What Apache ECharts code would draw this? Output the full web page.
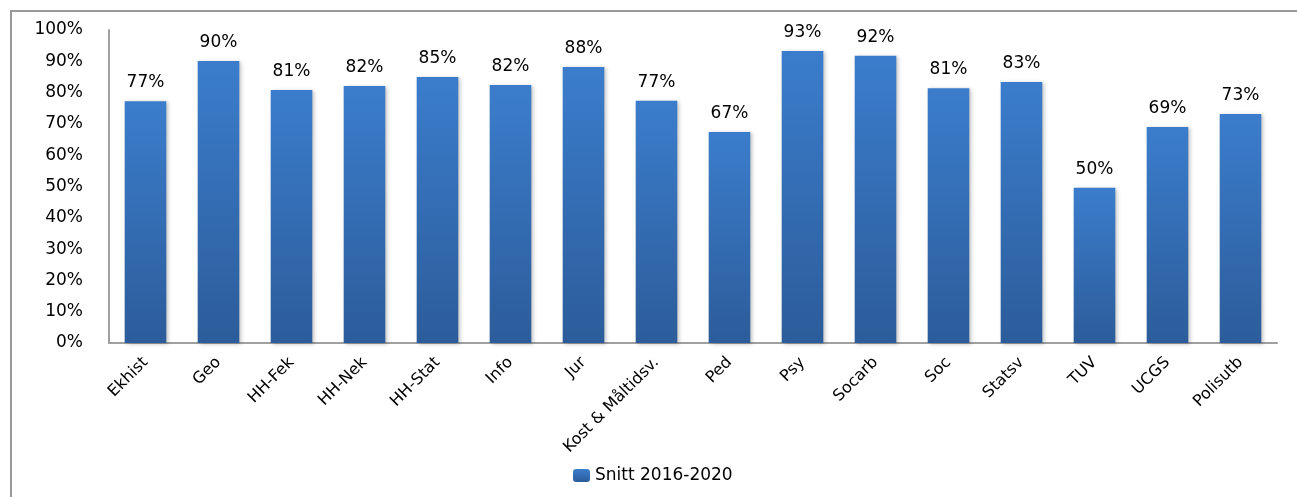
<!DOCTYPE html>
<html><head><meta charset="utf-8">
<script src="https://cdn.jsdelivr.net/npm/echarts@6/dist/echarts.min.js"></script>
<style>html,body{margin:0;padding:0;background:#fff;}#c{width:1297px;height:497px;}</style>
</head><body><div id="c"></div>
<script>
const categories = ['Ekhist','Geo','HH-Fek','HH-Nek','HH-Stat','Info','Jur','Kost & Måltidsv.','Ped','Psy','Socarb','Soc','Statsv','TUV','UCGS','Polisutb'];
const values = [77.2, 90.1, 80.8, 82.1, 85.0, 82.4, 88.2, 77.4, 67.4, 93.3, 91.8, 81.4, 83.4, 49.6, 69.0, 73.2];
const seriesName = 'Snitt 2016-2020';
const yTicks = [0,10,20,30,40,50,60,70,80,90,100];

const font = 'DejaVu Sans';
const grad = new echarts.graphic.LinearGradient(0,0,0,1,[{offset:0,color:'#3B7DCC'},{offset:1,color:'#2C5C9A'}]);
const chart = echarts.init(document.getElementById('c'));
chart.setOption({
  animation:false,
  graphic:[{type:'rect',shape:{x:11,y:11,width:1320,height:520},style:{fill:'none',stroke:'#999',lineWidth:2},silent:true}],
  grid:{left:109,right:20,top:30,bottom:154},
  legend:{bottom:8,left:568,itemWidth:17,itemHeight:13,itemGap:5,
    textStyle:{fontFamily:font,fontSize:17,color:'#000'},data:[seriesName]},
  xAxis:{type:'category',data:categories,
    axisLine:{lineStyle:{color:'#a0a0a0',width:2}},axisTick:{show:false},
    axisLabel:{rotate:45,interval:0,fontFamily:font,fontSize:16,color:'#000',margin:17}},
  yAxis:{type:'value',min:yTicks[0],max:yTicks[yTicks.length-1],interval:10,
    axisLine:{show:true,lineStyle:{color:'#a0a0a0',width:2}},axisTick:{show:false},splitLine:{show:false},
    axisLabel:{formatter:v=>v+'%',fontFamily:font,fontSize:17,color:'#000',margin:26}},
  series:[{name:seriesName,type:'bar',data:values,barCategoryGap:'43%',
    itemStyle:{color:grad,shadowColor:'rgba(0,0,0,0.25)',shadowBlur:4,shadowOffsetX:2,shadowOffsetY:1},
    label:{show:true,position:'top',distance:10,formatter:p=>Math.round(p.value)+'%',fontFamily:font,fontSize:17,color:'#000'}}]
});
</script></body></html>
